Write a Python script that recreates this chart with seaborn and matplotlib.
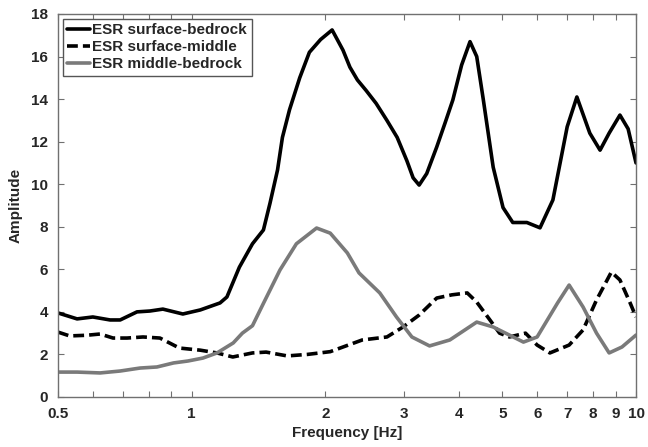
import matplotlib
matplotlib.use("Agg")
import matplotlib.pyplot as plt
import seaborn as sns
from matplotlib.ticker import FixedLocator, NullFormatter

# ESR surface-bedrock
freq_sb = [0.5, 0.552, 0.599, 0.655, 0.69, 0.753, 0.805, 0.861, 0.955, 1.045,
           1.158, 1.2, 1.28, 1.37, 1.45, 1.50, 1.56, 1.60, 1.66, 1.75, 1.84,
           1.95, 2.07, 2.19, 2.27, 2.36, 2.47, 2.6, 2.75, 2.9, 3.05, 3.15, 3.25,
           3.38, 3.56, 3.72, 3.87, 4.05, 4.23, 4.38, 4.53, 4.77, 5.02, 5.28,
           5.68, 6.08, 6.5, 7.0, 7.36, 7.87, 8.3, 8.7, 9.2, 9.6, 10.0]
amp_sb = [3.95, 3.67, 3.76, 3.62, 3.62, 4.0, 4.04, 4.13, 3.9, 4.09,
          4.42, 4.7, 6.1, 7.2, 7.85, 9.1, 10.67, 12.2, 13.5, 15.0, 16.2,
          16.8, 17.25, 16.3, 15.5, 14.9, 14.4, 13.8, 13.0, 12.2, 11.1, 10.3, 9.96,
          10.5, 11.75, 12.9, 13.96, 15.6, 16.7, 16.0, 14.0, 10.8, 8.9, 8.2,
          8.2, 7.95, 9.26, 12.7, 14.1, 12.4, 11.6, 12.4, 13.25, 12.6, 11.0]

# ESR surface-middle
freq_sm = [0.5, 0.531, 0.58, 0.622, 0.665, 0.715, 0.777, 0.848, 0.938, 1.045,
           1.14, 1.237, 1.37, 1.47, 1.64, 1.82, 2.05, 2.42, 2.75, 2.99, 3.25,
           3.56, 3.85, 4.17, 4.38, 4.69, 4.93, 5.19, 5.64, 5.99, 6.40, 7.07,
           7.6, 8.15, 8.8, 9.2, 9.7, 10.0]
amp_sm = [3.05, 2.87, 2.9, 2.96, 2.77, 2.77, 2.82, 2.77, 2.3, 2.2,
          2.07, 1.88, 2.07, 2.11, 1.93, 2.0, 2.13, 2.68, 2.82, 3.29, 3.85,
          4.65, 4.8, 4.89, 4.46, 3.62, 3.0, 2.82, 3.0, 2.44, 2.07, 2.44,
          3.15, 4.56, 5.87, 5.5, 4.42, 3.76]

# ESR middle-bedrock
freq_mb = [0.5, 0.552, 0.622, 0.69, 0.765, 0.835, 0.91, 0.98, 1.06, 1.14,
           1.24, 1.30, 1.37, 1.45, 1.58, 1.72, 1.91, 2.05, 2.24, 2.38, 2.65,
           2.89, 3.13, 3.43, 3.81, 4.38, 4.77, 5.58, 5.99, 6.66, 7.07, 7.6,
           8.15, 8.7, 9.3, 10.0]
amp_mb = [1.17, 1.17, 1.13, 1.22, 1.36, 1.41, 1.6, 1.69, 1.83, 2.07,
          2.54, 3.0, 3.35, 4.4, 5.97, 7.2, 7.94, 7.7, 6.77, 5.83, 4.89,
          3.76, 2.82, 2.4, 2.68, 3.52, 3.29, 2.58, 2.82, 4.42, 5.26, 4.23,
          3.0, 2.07, 2.35, 2.91]

series_labels = ["ESR surface-bedrock", "ESR surface-middle", "ESR middle-bedrock"]
x_ticks = [0.5, 1, 2, 3, 4, 5, 6, 7, 8, 9, 10]
x_ticklabels = ["0.5", "1", "2", "3", "4", "5", "6", "7", "8", "9", "10"]
x_minor = [0.6, 0.7, 0.8, 0.9]
y_ticks = list(range(0, 19, 2))

sns.set_style("ticks")
plt.rcParams["font.family"] = ["Liberation Sans", "DejaVu Sans"]
plt.rcParams["font.weight"] = "bold"

fig = plt.figure(figsize=(6.48, 4.47), dpi=100)
ax = fig.add_axes([0.0895, 0.1119, 0.892, 0.8568])

sns.lineplot(x=freq_sb, y=amp_sb, ax=ax, color="black", lw=2.6,
             label=series_labels[0], sort=False)
sns.lineplot(x=freq_sm, y=amp_sm, ax=ax, color="black", lw=2.6,
             linestyle=(0, (3, 1.4)), label=series_labels[1], sort=False)
sns.lineplot(x=freq_mb, y=amp_mb, ax=ax, color="#7a7a7a", lw=2.6,
             label=series_labels[2], sort=False)

ax.set_xscale("log")
ax.set_xlim(0.5, 10)
ax.set_ylim(0, 18)
ax.xaxis.set_major_locator(FixedLocator(x_ticks))
ax.set_xticklabels(x_ticklabels)
ax.xaxis.set_minor_locator(FixedLocator(x_minor))
ax.xaxis.set_minor_formatter(NullFormatter())
ax.set_yticks(y_ticks)

spine_col = "#707070"
for s in ax.spines.values():
    s.set_visible(True)
    s.set_color(spine_col)
    s.set_linewidth(1.0)
ax.tick_params(which="both", direction="in", length=4, width=0.8,
               color=spine_col, top=True, right=True, labelsize=11)
ax.tick_params(axis="x", which="both", pad=7)
ax.tick_params(axis="y", pad=7)

ax.set_xlabel("Frequency [Hz]", fontsize=11, fontweight="bold", labelpad=4)
ax.set_ylabel("Amplitude", fontsize=11, fontweight="bold", labelpad=6)

leg = ax.legend(loc="upper left", fontsize=11, handlelength=1.5,
                handletextpad=0.15, labelspacing=0.2, borderpad=0.3,
                borderaxespad=0.3, fancybox=False, framealpha=1)
leg.get_frame().set_edgecolor("#555555")
leg.get_frame().set_linewidth(1.0)
for t in leg.get_texts():
    t.set_fontweight("bold")

fig.savefig("out.png", dpi=100)
